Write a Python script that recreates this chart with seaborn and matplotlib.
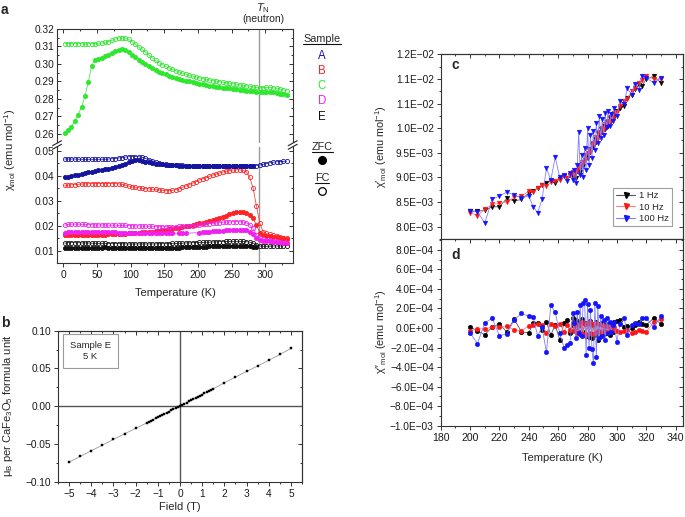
import numpy as np
import pandas as pd
import matplotlib
matplotlib.use("Agg")
import matplotlib.pyplot as plt
import seaborn as sns
from matplotlib.lines import Line2D
from matplotlib.patches import Polygon
from matplotlib.ticker import MultipleLocator, FormatStrFormatter, FuncFormatter

sns.set_theme(style="ticks")
plt.rcParams["font.family"] = ["Liberation Sans", "DejaVu Sans"]
plt.rcParams["mathtext.fontset"] = "custom"
plt.rcParams["mathtext.rm"] = "Liberation Sans"
plt.rcParams["mathtext.it"] = "Liberation Sans:italic"
plt.rcParams["mathtext.bf"] = "Liberation Sans:bold"
plt.rcParams["axes.unicode_minus"] = True

nan = np.nan
# ---------------- panel a data (chi_mol, emu/mol) ----------------
T_a = [2, 7, 12, 17, 22, 27, 32, 37, 42, 47,
       52, 57, 62, 67, 72, 77, 82, 87, 92, 97,
       102, 107, 112, 117, 122, 127, 132, 137, 142, 147,
       152, 157, 162, 167, 172, 177, 182, 187, 192, 197,
       202, 207, 212, 217, 222, 227, 232, 237, 242, 247,
       252, 257, 262, 267, 272, 277, 282, 287, 292, 297,
       302, 307, 312, 317, 322, 327, 332]
C_fc = [0.3116, 0.3117, 0.3117, 0.3116, 0.3116, 0.3115, 0.3115, 0.3116, 0.3116, 0.3117,
        0.3118, 0.3120, 0.3123, 0.3128, 0.3135, 0.3142, 0.3148, 0.3150, 0.3147, 0.3140,
        0.3128, 0.3113, 0.3098, 0.3083, 0.3068, 0.3052, 0.3036, 0.3020, 0.3008, 0.2996,
        0.2987, 0.2978, 0.2970, 0.2962, 0.2955, 0.2948, 0.2942, 0.2936, 0.2931, 0.2926,
        0.2921, 0.2917, 0.2913, 0.2909, 0.2905, 0.2902, 0.2899, 0.2896, 0.2893, 0.2890,
        0.2887, 0.2884, 0.2881, 0.2878, 0.2875, 0.2872, 0.2869, 0.2866, 0.2864, 0.2865,
        0.2866, 0.2866, 0.2864, 0.2861, 0.2857, 0.2853, 0.2848]
C_zfc = [0.2605, 0.2625, 0.2642, 0.2675, 0.2710, 0.2755, 0.2815, 0.2897, 0.2990, 0.3025,
         0.3030, 0.3037, 0.3045, 0.3053, 0.3062, 0.3072, 0.3082, 0.3085, 0.3078, 0.3066,
         0.3052, 0.3038, 0.3024, 0.3010, 0.2998, 0.2986, 0.2975, 0.2965, 0.2955, 0.2947,
         0.2940, 0.2933, 0.2926, 0.2920, 0.2914, 0.2909, 0.2904, 0.2900, 0.2896, 0.2892,
         0.2888, 0.2884, 0.2880, 0.2877, 0.2874, 0.2871, 0.2868, 0.2865, 0.2862, 0.2860,
         0.2857, 0.2855, 0.2852, 0.2850, 0.2848, 0.2845, 0.2843, 0.2840, 0.2838, 0.2839,
         0.2840, 0.2840, 0.2838, 0.2836, 0.2831, 0.2826, 0.2822]
A_fc = [0.0467, 0.0467, 0.0467, 0.0467, 0.0466, 0.0466, 0.0466, 0.0466, 0.0466, 0.0466,
        0.0466, 0.0466, 0.0466, 0.0467, 0.0468, 0.0469, 0.0471, 0.0473, 0.0475, 0.0476,
        0.0477, 0.0477, 0.0476, 0.0474, 0.0470, 0.0465, 0.0460, 0.0456, 0.0452, 0.0449,
        0.0447, 0.0445, 0.0444, 0.0443, 0.0442, 0.0442, 0.0441, 0.0441, 0.0441, 0.0441,
        0.0441, 0.0441, 0.0440, 0.0440, 0.0440, 0.0439, 0.0439, 0.0439, 0.0439, 0.0439,
        0.0439, 0.0439, 0.0439, 0.0439, 0.0439, 0.0439, 0.0440, 0.0441, 0.0443, 0.0446,
        0.0449, 0.0452, 0.0454, 0.0456, 0.0457, 0.0458, 0.0458]
A_zfc = [0.0394, 0.0396, 0.0399, 0.0402, 0.0405, 0.0408, 0.0411, 0.0414, 0.0417, 0.0420,
         0.0423, 0.0425, 0.0427, 0.0429, 0.0431, 0.0434, 0.0438, 0.0443, 0.0448, 0.0454,
         0.0459, 0.0462, 0.0463, 0.0461, 0.0457, 0.0454, 0.0451, 0.0449, 0.0447, 0.0446,
         0.0445, 0.0444, 0.0443, 0.0442, 0.0441, 0.0441, 0.0440, 0.0440, 0.0440, 0.0439,
         0.0439, 0.0439, 0.0439, 0.0438, 0.0438, 0.0438, 0.0438, 0.0438, 0.0438, 0.0438,
         0.0438, 0.0438, 0.0438, 0.0438, 0.0438, 0.0438, 0.0438, nan, nan, nan,
         nan, nan, nan, nan, nan, nan, nan]
B_fc = [0.0362, 0.0363, 0.0364, 0.0365, 0.0366, 0.0367, 0.0368, 0.0368, 0.0369, 0.0369,
        0.0369, 0.0369, 0.0369, 0.0369, 0.0369, 0.0369, 0.0368, 0.0366, 0.0363, 0.0359,
        0.0356, 0.0354, 0.0352, 0.0350, 0.0349, 0.0348, 0.0347, 0.0346, 0.0344, 0.0342,
        0.0341, 0.0341, 0.0342, 0.0345, 0.0349, 0.0354, 0.0359, 0.0365, 0.0371, 0.0377,
        0.0383, 0.0388, 0.0393, 0.0398, 0.0403, 0.0407, 0.0411, 0.0415, 0.0418, 0.0421,
        0.0423, 0.0424, 0.0424, 0.0422, 0.0416, 0.0394, 0.0352, 0.0281, 0.0211, 0.0177,
        0.0170, 0.0166, 0.0162, 0.0158, 0.0155, 0.0152, 0.0150]
B_zfc = [0.0163, 0.0163, 0.0163, 0.0163, 0.0163, 0.0163, 0.0164, 0.0164, 0.0164, 0.0164,
         0.0165, 0.0165, 0.0165, 0.0166, 0.0166, 0.0167, 0.0167, 0.0168, 0.0169, 0.0170,
         0.0171, 0.0172, 0.0173, 0.0174, 0.0175, 0.0176, 0.0177, 0.0178, 0.0180, 0.0182,
         0.0184, 0.0186, 0.0188, 0.0190, 0.0192, 0.0195, 0.0198, 0.0201, 0.0204, 0.0207,
         0.0210, 0.0213, 0.0216, 0.0219, 0.0222, 0.0226, 0.0230, 0.0235, 0.0240, 0.0246,
         0.0251, 0.0255, 0.0257, 0.0257, 0.0253, 0.0245, 0.0232, 0.0204, 0.0172, 0.0163,
         0.0160, 0.0158, 0.0156, 0.0154, 0.0152, 0.0150, 0.0148]
D_fc = [0.0203, 0.0206, 0.0207, 0.0207, 0.0207, 0.0206, 0.0206, 0.0205, 0.0205, 0.0204,
        0.0204, 0.0204, 0.0204, 0.0203, 0.0203, 0.0203, 0.0202, 0.0202, 0.0202, 0.0201,
        0.0201, 0.0200, 0.0200, 0.0199, 0.0199, 0.0198, 0.0198, 0.0197, 0.0197, 0.0197,
        0.0197, 0.0197, 0.0197, 0.0197, 0.0198, 0.0198, 0.0199, 0.0200, 0.0201, 0.0203,
        0.0204, 0.0206, 0.0207, 0.0209, 0.0210, 0.0212, 0.0213, 0.0214, 0.0215, 0.0216,
        0.0217, 0.0217, 0.0217, 0.0216, 0.0213, 0.0205, 0.0190, 0.0165, 0.0150, 0.0146,
        0.0145, 0.0143, 0.0141, 0.0139, 0.0137, 0.0134, 0.0131]
D_zfc = [0.0172, 0.0174, 0.0175, 0.0176, 0.0176, 0.0176, 0.0176, 0.0176, 0.0175, 0.0175,
         0.0175, 0.0175, 0.0175, 0.0174, 0.0174, 0.0174, 0.0173, 0.0173, 0.0173, 0.0172,
         0.0172, 0.0172, 0.0171, 0.0171, 0.0171, 0.0170, 0.0170, 0.0170, 0.0170, 0.0170,
         0.0170, 0.0170, 0.0170, nan, 0.0171, 0.0171, 0.0171, nan, nan, nan,
         0.0173, 0.0174, 0.0175, 0.0176, 0.0178, 0.0179, 0.0180, 0.0181, 0.0182, 0.0183,
         0.0184, 0.0185, 0.0185, 0.0184, 0.0182, 0.0177, 0.0167, 0.0152, 0.0143, 0.0140,
         0.0139, 0.0138, 0.0137, 0.0136, 0.0134, 0.0132, 0.0130]
E_fc = [0.0131, 0.0133, 0.0133, 0.0133, 0.0133, 0.0132, 0.0132, 0.0132, 0.0131, 0.0131,
        0.0130, 0.0130, 0.0130, 0.0129, 0.0129, 0.0129, 0.0129, 0.0129, 0.0128, 0.0128,
        0.0128, 0.0128, 0.0128, 0.0128, 0.0128, 0.0128, 0.0128, 0.0128, 0.0129, 0.0129,
        0.0129, 0.0129, 0.0130, 0.0130, 0.0131, 0.0131, 0.0132, 0.0132, 0.0133, 0.0133,
        0.0134, 0.0134, 0.0135, 0.0135, 0.0136, 0.0136, 0.0137, 0.0137, 0.0138, 0.0138,
        0.0138, 0.0138, 0.0138, 0.0138, 0.0137, 0.0135, 0.0131, 0.0125, 0.0120, 0.0119,
        0.0119, 0.0119, 0.0120, 0.0120, 0.0120, 0.0121, 0.0121]
E_zfc = [0.0110, 0.0111, 0.0111, 0.0111, 0.0110, 0.0110, 0.0110, 0.0110, 0.0110, 0.0110,
         0.0110, 0.0110, 0.0115, 0.0110, 0.0110, 0.0110, 0.0110, 0.0110, 0.0110, 0.0110,
         0.0110, 0.0110, 0.0110, 0.0111, 0.0111, 0.0111, 0.0111, 0.0111, 0.0111, 0.0112,
         0.0112, 0.0112, 0.0113, 0.0113, 0.0113, 0.0114, 0.0114, 0.0115, 0.0115, 0.0116,
         0.0116, 0.0117, 0.0117, 0.0118, 0.0118, 0.0119, 0.0119, 0.0120, 0.0120, 0.0121,
         0.0121, 0.0121, 0.0121, 0.0121, 0.0120, 0.0119, 0.0116, 0.0114, nan, nan,
         nan, nan, nan, nan, nan, nan, nan]
T_neutron = 291
sample_names = ["A", "B", "C", "D", "E"]
sample_colors = ["#14149e", "#ff2424", "#2ee82e", "#f020f0", "#111111"]

# ---------------- panel b data ----------------
H_b = [-5, -4.5, -4, -3.5, -3, -2.5, -2,
       -1.5, -1.4, -1.3, -1.2, -1.1, -1.0, -0.9, -0.8, -0.7, -0.6, -0.5, -0.4, -0.3, -0.2, -0.1,
       0.0, 0.1, 0.2, 0.3, 0.4, 0.5, 0.6, 0.7, 0.8, 0.9, 1.0, 1.1, 1.2, 1.3, 1.4, 1.5,
       2, 2.5, 3, 3.5, 4, 4.5, 5]
M_b = [-0.0740, -0.0666, -0.0590, -0.0515, -0.0440, -0.0366, -0.0293,
       -0.0222, -0.0207, -0.0192, -0.0177, -0.0162, -0.0147, -0.0132, -0.0116, -0.0101,
       -0.0086, -0.0071, -0.0056, -0.0041, -0.0026, -0.0011,
       0.0004, 0.0019, 0.0034, 0.0049, 0.0064, 0.0079, 0.0094, 0.0109, 0.0124, 0.0139,
       0.0154, 0.0170, 0.0185, 0.0200, 0.0215, 0.0230,
       0.0310, 0.0385, 0.0460, 0.0533, 0.0608, 0.0685, 0.0765]

# ---------------- panels c, d data ----------------
T_ac = [200, 205, 210, 215, 220, 225, 230, 235, 240, 243,
        246, 249, 252, 255, 258, 261, 264, 266, 268, 270,
        271, 272, 273, 274, 275, 276, 277, 278, 279, 280,
        281, 282, 283, 284, 285, 286, 287, 288, 289, 290,
        291, 292, 293, 294, 295, 296, 297, 298, 300, 302,
        305, 307, 310, 312, 315, 317, 320, 325, 330]
# chi' in units of 1e-3 emu/mol
chi1_1Hz = [8.31, 8.31, 8.33, 8.40, 8.40, 8.57, 8.52, 8.55, 8.68, 8.72,
            8.78, 8.85, 8.88, 8.93, 8.88, 8.97, 9.03, 8.98, 9.05, 9.00,
            9.08, 8.98, 9.12, 9.15, 9.10, 9.28, 9.22, 9.35, 9.42, 9.40,
            9.58, 9.52, 9.68, 9.62, 9.78, 9.72, 9.90, 9.85, 9.98, 9.92,
            10.05, 9.98, 10.12, 10.05, 10.20, 10.15, 10.28, 10.22, 10.35, 10.40,
            10.45, 10.62, 10.68, 10.80, 10.88, 10.85, 11.00, 11.05, 10.92]
chi1_10Hz = [8.28, 8.22, 8.35, 8.45, 8.47, 8.50, 8.60, 8.62, 8.72, 8.70,
             8.78, 8.85, 8.82, 8.90, 8.92, 8.95, 9.02, 8.98, 9.05, 9.10,
             9.05, 9.15, 9.12, 9.22, 9.20, 9.32, 9.30, 9.45, 9.38, 9.50,
             9.55, 9.52, 9.65, 9.70, 9.72, 9.82, 9.80, 9.92, 9.90, 10.00,
             9.98, 10.08, 10.05, 10.15, 10.12, 10.22, 10.20, 10.30, 10.32, 10.45,
             10.55, 10.60, 10.75, 10.82, 10.92, 10.98, 11.05, 11.00, 11.00]
chi1_100Hz = [8.32, 8.30, 8.07, 8.55, 8.62, 8.70, 8.64, 8.58, 8.62, 8.40,
              8.28, 8.55, 9.18, 8.95, 9.41, 9.00, 9.05, 8.92, 9.08, 8.95,
              9.15, 8.88, 9.25, 9.93, 9.05, 9.45, 9.00, 9.60, 9.15, 10.00,
              9.25, 9.85, 9.40, 9.95, 9.55, 10.10, 9.70, 10.25, 9.80, 10.18,
              9.85, 10.30, 10.02, 10.35, 10.05, 10.28, 10.15, 10.40, 10.25, 10.55,
              10.50, 10.81, 10.68, 10.90, 10.78, 11.06, 11.02, 10.92, 11.02]
# chi'' in units of 1e-4 emu/mol
chi2_1Hz = [0.1, -0.3, -0.7, 0.1, 0.4, -0.4, 0.9, -0.4, -0.5, 0.5,
            0.5, -0.2, 0.6, -0.7, 0.3, -1.2, 0.5, 0.8, -0.5, 1.0,
            0.2, 0.8, -0.3, 0.6, -0.6, 0.9, -0.4, 0.5, -0.8, 0.4,
            -0.9, 0.7, -1.0, 0.3, -0.7, 0.6, -1.2, 0.4, -0.8, 0.5,
            -0.6, 0.3, -0.5, 0.4, -0.7, 0.3, -0.4, 0.6, 0.7, 0.8,
            0.1, 0.2, 0.0, 0.3, 0.6, 0.4, 0.3, 1.0, 0.4]
chi2_10Hz = [-0.3, -0.1, -0.1, 0.1, 0.1, 0.2, -0.2, -0.3, 0.2, 0.3,
             0.4, 0.3, -0.5, 0.4, 0.2, 0.4, -0.4, 0.3, -0.2, 0.5,
             -0.3, 0.4, -0.5, 0.3, -0.4, 0.6, -0.6, 0.4, -0.7, 0.5,
             -0.5, 0.6, -0.6, 0.4, -0.5, 0.5, -0.3, 0.4, -0.4, 0.3,
             -0.3, 0.2, -0.4, 0.2, -0.3, 0.1, -0.2, 0.1, -0.3, -0.4,
             -0.3, -0.2, -0.5, -0.4, -0.2, -0.3, -0.4, 0.6, 0.9]
chi2_100Hz = [-0.5, -1.6, 0.5, 1.0, -0.8, -0.6, 0.8, 1.5, 1.2, 1.1,
              -0.8, 0.1, -2.5, 2.3, 1.6, -0.5, -2.0, -1.7, -1.5, 1.5,
              0.5, -1.0, 1.6, -0.5, 2.3, -0.8, 2.6, 2.9, -2.8, 2.4,
              -2.0, 1.8, -2.2, -3.6, 2.6, -3.0, 2.2, -1.0, 1.2, -0.8,
              0.8, -1.2, 1.0, -0.5, 0.6, -0.4, 0.3, 0.6, -1.4, 0.4,
              1.0, -0.7, 0.3, 0.5, 0.4, 1.0, 1.0, 0.1, 1.2]
freq_labels = ["1 Hz", "10 Hz", "100 Hz"]
freq_colors = ["#000000", "#ff1414", "#1414ff"]
freq_line_colors = ["#555555", "#ff8080", "#8080ff"]

c_yticks = [8.0, 8.5, 9.0, 9.5, 10.0, 10.5, 11.0, 11.5]
c_yticklabels = ["8.0E\u221203", "8.5E\u221203", "9.0E\u221203", "9.5E\u221203",
                 "1.0E\u221202", "1.1E\u221202", "1.1E\u221202", "1.2E\u221202"]
d_yticks = [-10, -8, -6, -4, -2, 0, 2, 4, 6, 8]
d_yticklabels = ["\u22121.0E\u221203", "\u22128.0E\u221204", "\u22126.0E\u221204",
                 "\u22124.0E\u221204", "\u22122.0E\u221204", "0.0E+00", "2.0E\u221204",
                 "4.0E\u221204", "6.0E\u221204", "8.0E\u221204"]

# ---------------- figure ----------------
W, H = 685, 517
fig = plt.figure(figsize=(W / 100, H / 100), dpi=100)


def box(x0, y0, x1, y1):
    return [x0 / W, 1 - y1 / H, (x1 - x0) / W, (y1 - y0) / H]


def fx(x):
    return x / W


def fy(y):
    return 1 - y / H


SP = "#333333"
TS = 7.3


def style(ax):
    for s in ax.spines.values():
        s.set_color(SP)
        s.set_linewidth(0.8)
    ax.tick_params(which="both", color=SP, width=0.7, labelsize=TS, labelcolor="#1a1a1a")
    ax.tick_params(which="major", length=3)
    ax.tick_params(which="minor", length=1.6)
    ax.set_xlabel("")
    ax.set_ylabel("")


def inner(ax, side, major, minor):
    if side in ("top", "bottom"):
        sec = ax.secondary_xaxis(side)
        sec.set_xticks(major, labels=[""] * len(major))
        sec.xaxis.set_minor_locator(MultipleLocator(minor))
    else:
        sec = ax.secondary_yaxis(side)
        sec.set_yticks(major, labels=[""] * len(major))
        sec.yaxis.set_minor_locator(MultipleLocator(minor))
    sec.tick_params(which="both", direction="in", color=SP, width=0.7)
    sec.tick_params(which="major", length=3)
    sec.tick_params(which="minor", length=1.6)
    for s in sec.spines.values():
        s.set_color(SP)
        s.set_linewidth(0.8)
    return sec


def series(ax, x, y, color, marker, filled, ms, lw=0.5, lcolor=None, mew=0.6, z=2):
    df = pd.DataFrame({"x": x, "y": y})
    sns.lineplot(data=df, x="x", y="y", ax=ax, estimator=None, sort=False,
                 color=lcolor or color, lw=lw, marker=marker, ms=ms,
                 markerfacecolor=color if filled else "none", markeredgecolor=color,
                 markeredgewidth=mew, zorder=z, legend=False)


# ---------------- panel a ----------------
ax_at = fig.add_axes(box(57, 29, 292.7, 145))
ax_ab = fig.add_axes(box(57, 145, 292.7, 263))
col = dict(zip(sample_names, sample_colors))

series(ax_at, T_a, C_fc, col["C"], "o", False, 3.0)
series(ax_at, T_a, C_zfc, col["C"], "o", True, 3.0)

for name, zfc, fc in [("E", E_zfc, E_fc), ("B", B_zfc, None), ("D", D_zfc, D_fc),
                      ("B", None, B_fc), ("A", A_zfc, A_fc)]:
    if zfc is not None:
        series(ax_ab, T_a, zfc, col[name], "o", True, 3.0)
    if fc is not None:
        series(ax_ab, T_a, fc, col[name], "o", False, 3.0)

for ax in (ax_at, ax_ab):
    ax.axvline(T_neutron, color="#9a9a9a", lw=1.0, zorder=1)
    ax.set_xlim(-9.5, 341)
    style(ax)
    ax.set_xticks([0, 50, 100, 150, 200, 250, 300])
    ax.xaxis.set_minor_locator(MultipleLocator(25))
    ax.yaxis.set_minor_locator(MultipleLocator(0.005))
    ax.yaxis.set_major_formatter(FormatStrFormatter("%.2f"))
    ax.tick_params(axis="y", which="both", direction="in", left=True, right=True, pad=2)

ax_at.set_ylim(0.2537, 0.32)
ax_at.set_yticks([0.26, 0.27, 0.28, 0.29, 0.30, 0.31, 0.32])
ax_at.yaxis.set_minor_locator(MultipleLocator(0.005))
ax_at.spines["bottom"].set_visible(False)
ax_at.tick_params(axis="x", which="both", direction="in", bottom=False, top=True,
                  labelbottom=False)

ax_ab.set_ylim(0.0052, 0.0523)
ax_ab.set_yticks([0.01, 0.02, 0.03, 0.04, 0.05])
ax_ab.yaxis.set_minor_locator(MultipleLocator(0.005))
ax_ab.spines["top"].set_visible(False)
ax_ab.tick_params(axis="x", which="both", direction="out", bottom=True, top=False, pad=2)

# axis break
fig.add_artist(Polygon([(fx(48), fy(146.6)), (fx(300), fy(146.6)),
                        (fx(300), fy(143.4)), (fx(48), fy(143.4))],
                       closed=True, transform=fig.transFigure, fc="white", ec="none", zorder=10))
for xs in (57, 292.7):
    for dy in (-1.8, 1.8):
        fig.add_artist(Line2D([fx(xs - 4.5), fx(xs + 4.5)],
                              [fy(145 + dy + 2.5), fy(145 + dy - 2.5)],
                              transform=fig.transFigure, color="#222222", lw=0.8, zorder=11))

fig.text(fx(175), fy(293), "Temperature (K)", ha="center", va="center", fontsize=8)
fig.text(fx(10), fy(150), r"χ$_{\mathrm{mol}}$ (emu mol$^{-1}$)", rotation=90,
         ha="center", va="center", fontsize=8)
fig.text(fx(263), fy(8), r"$T_{\mathrm{N}}$", ha="center", va="center", fontsize=8)
fig.text(fx(263), fy(19), "(neutron)", ha="center", va="center", fontsize=7.5)
fig.text(fx(1), fy(10), "a", ha="left", va="center", fontsize=10, fontweight="bold")
fig.text(fx(1), fy(323), "b", ha="left", va="center", fontsize=10, fontweight="bold")

# legend column for panel a
under = []
under.append(fig.text(fx(322), fy(39), "Sample", ha="center", va="center", fontsize=7.8))
ys = [56, 71, 86, 101, 117]
for nm, cc, yy in zip(sample_names, sample_colors, ys):
    fig.text(fx(322), fy(yy), nm, ha="center", va="center", fontsize=8.3, color=cc)
under.append(fig.text(fx(322), fy(147), "ZFC", ha="center", va="center", fontsize=7.8))
fig.add_artist(Line2D([fx(322)], [fy(160)], transform=fig.transFigure, marker="o", ms=5.5,
                      color="black", ls="none"))
under.append(fig.text(fx(322), fy(178), "FC", ha="center", va="center", fontsize=7.8))
fig.add_artist(Line2D([fx(322)], [fy(191)], transform=fig.transFigure, marker="o", ms=5.5,
                      mfc="none", mec="black", mew=0.9, ls="none"))

# ---------------- panel b ----------------
ax_b = fig.add_axes(box(58, 330.7, 302, 481.7))
ax_b.axhline(0, color="#555555", lw=1.0, zorder=1)
ax_b.axvline(0, color="#555555", lw=1.0, zorder=1)
series(ax_b, H_b, M_b, "black", "s", True, 1.6, lw=0.6, lcolor="#9a9a9a", mew=0.3, z=3)
style(ax_b)
ax_b.set_xlim(-5.5, 5.5)
ax_b.set_ylim(-0.1, 0.1)
ax_b.set_xticks([-5, -4, -3, -2, -1, 0, 1, 2, 3, 4, 5])
ax_b.xaxis.set_minor_locator(MultipleLocator(0.5))
ax_b.set_yticks([-0.10, -0.05, 0.0, 0.05, 0.10])
ax_b.yaxis.set_minor_locator(MultipleLocator(0.025))
ax_b.yaxis.set_major_formatter(FuncFormatter(lambda v, p: ("%.2f" % v).replace("-", "\u2212")))
ax_b.tick_params(which="both", direction="out", pad=2)
inner(ax_b, "top", [-5, -4, -3, -2, -1, 0, 1, 2, 3, 4, 5], 0.5)
inner(ax_b, "right", [-0.10, -0.05, 0.0, 0.05, 0.10], 0.025)
ax_b.text(0.132, 0.866, "Sample E\n5 K", transform=ax_b.transAxes, ha="center", va="center",
          fontsize=6.8, linespacing=1.25,
          bbox=dict(boxstyle="square,pad=0.75", fc="white", ec="#9a9a9a", lw=0.8))
fig.text(fx(180), fy(507), "Field (T)", ha="center", va="center", fontsize=8)
fig.text(fx(8), fy(406), r"μ$_{\mathrm{B}}$ per CaFe$_3$O$_5$ formula unit", rotation=90,
         ha="center", va="center", fontsize=8)

# ---------------- panels c, d ----------------
ax_c = fig.add_axes(box(440.7, 54.3, 683, 239.3))
ax_d = fig.add_axes(box(440.7, 239.3, 683, 425.7))
chi1 = [chi1_1Hz, chi1_10Hz, chi1_100Hz]
chi2 = [chi2_1Hz, chi2_10Hz, chi2_100Hz]
order = [2, 0, 1]
for i in order:
    series(ax_c, T_ac, chi1[i], freq_colors[i], "v", True, 3.4, lw=0.6,
           lcolor=freq_line_colors[i], mew=0.3, z=2 + i)
    series(ax_d, T_ac, chi2[i], freq_colors[i], "o", True, 3.3, lw=0.6,
           lcolor=freq_line_colors[i], mew=0.3, z=2 + i)

for ax in (ax_c, ax_d):
    style(ax)
    ax.set_xlim(180, 345)
    ax.set_xticks([180, 200, 220, 240, 260, 280, 300, 320, 340])
    ax.xaxis.set_minor_locator(MultipleLocator(10))
    ax.tick_params(which="both", direction="out", pad=2)

ax_c.set_ylim(7.74, 11.5)
ax_c.set_yticks(c_yticks, labels=c_yticklabels)
ax_c.yaxis.set_minor_locator(MultipleLocator(0.25))
ax_c.tick_params(axis="x", which="both", bottom=False, labelbottom=False)
inner(ax_c, "top", [180, 200, 220, 240, 260, 280, 300, 320, 340], 10)
inner(ax_c, "right", c_yticks, 0.25)

ax_d.set_ylim(-10, 9.07)
ax_d.set_yticks(d_yticks, labels=d_yticklabels)
ax_d.yaxis.set_minor_locator(MultipleLocator(1))
ax_d.tick_params(axis="x", labelsize=7.6)
inner(ax_d, "top", [180, 200, 220, 240, 260, 280, 300, 320, 340], 10)
inner(ax_d, "right", d_yticks, 1)

handles = [Line2D([], [], color=freq_line_colors[i], lw=0.8, marker="v", ms=3.6,
                  mfc=freq_colors[i], mec=freq_colors[i]) for i in range(3)]
leg = ax_c.legend(handles, freq_labels, loc="lower right", bbox_to_anchor=(0.955, 0.07),
                  fontsize=6.8, frameon=True, fancybox=False, handlelength=2.0,
                  handletextpad=0.4, borderpad=0.35, labelspacing=0.25, borderaxespad=0)
leg.get_frame().set_edgecolor("#888888")
leg.get_frame().set_linewidth(0.8)

ax_c.text(0.045, 0.94, "c", transform=ax_c.transAxes, fontsize=10, fontweight="bold",
          ha="left", va="center")
ax_d.text(0.045, 0.916, "d", transform=ax_d.transAxes, fontsize=10, fontweight="bold",
          ha="left", va="center")
fig.text(fx(381), fy(147), r"χ′$_{\mathrm{mol}}$ (emu mol$^{-1}$)", rotation=90,
         ha="center", va="center", fontsize=7.8)
fig.text(fx(381), fy(332), r"χ″$_{\mathrm{mol}}$ (emu mol$^{-1}$)", rotation=90,
         ha="center", va="center", fontsize=7.8)
fig.text(fx(562), fy(458), "Temperature (K)", ha="center", va="center", fontsize=8)

# underlines for the panel-a legend headings
fig.canvas.draw()
rend = fig.canvas.get_renderer()
for t in under:
    bb = t.get_window_extent(rend)
    fig.add_artist(Line2D([bb.x0 / W, bb.x1 / W], [(bb.y0 + 0.3) / H] * 2,
                          transform=fig.transFigure, color="#111111", lw=0.8))

fig.savefig("out.png", dpi=100)
